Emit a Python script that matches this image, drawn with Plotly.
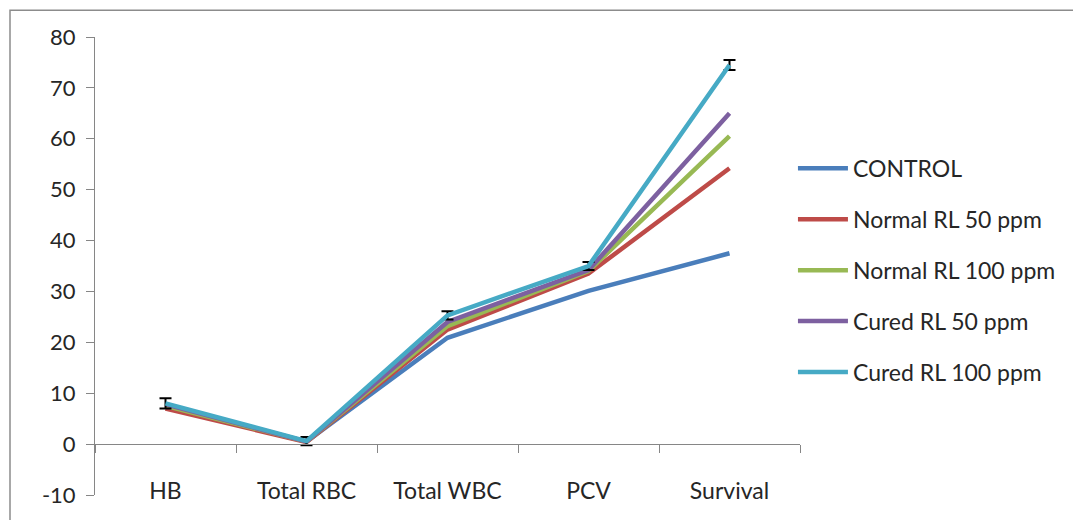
import plotly.graph_objects as go

categories = ["HB", "Total RBC", "Total WBC", "PCV", "Survival"]
control = [7.5, 0.5, 20.9, 30.1, 37.5]
normal_50 = [7.0, 0.4, 22.5, 33.5, 54.2]
normal_100 = [7.5, 0.5, 23.2, 34.0, 60.5]
cured_50 = [7.8, 0.5, 24.0, 34.2, 65.0]
cured_100 = [8.0, 0.6, 25.3, 35.0, 74.5]
cured_100_err = [1.0, 0.8, 0.8, 0.8, 1.0]
y_ticks = list(range(-10, 81, 10))
y_tick_labels = [str(v) for v in y_ticks]

names = ["CONTROL", "Normal RL 50 ppm", "Normal RL 100 ppm", "Cured RL 50 ppm", "Cured RL 100 ppm"]
colors = ["#4A7EBB", "#BE4B48", "#98B954", "#7D60A0", "#46AAC5"]
series = [control, normal_50, normal_100, cured_50, cured_100]

FONT = "Lato"
TXT = "#262626"
GRID = "#868686"

# page body has an 8px margin: figure is sized so the plot lands at the right pixels
fig = go.Figure()
for i, (name, vals, col) in enumerate(zip(names, series, colors)):
    kw = {}
    if i == 4:
        kw["error_y"] = dict(type="data", array=cured_100_err, visible=True,
                             color="black", thickness=2, width=6)
    fig.add_trace(go.Scatter(x=categories, y=vals, mode="lines", name=name,
                             line=dict(color=col, width=4.5), legendgroup=name,
                             **kw))

fig.update_layout(
    width=1073, height=512,
    margin=dict(l=87, r=281, t=29, b=14),
    paper_bgcolor="white", plot_bgcolor="white",
    font=dict(family=FONT, size=23, color=TXT),
    showlegend=True,
    legend=dict(x=0.99, xanchor="left", y=0.76, yanchor="top",
                font=dict(family=FONT, size=23, color=TXT),
                tracegroupgap=18, itemwidth=50, bgcolor="rgba(0,0,0,0)"),
    xaxis=dict(type="category", categoryorder="array", categoryarray=categories,
               range=[-0.5, 4.5], anchor="free", position=(0 - (-10)) / 90,
               showline=True, linecolor=GRID, linewidth=1,
               ticks="outside", ticklen=8, tickcolor=GRID, tickson="boundaries",
               showticklabels=False, showgrid=False, zeroline=False),
    xaxis2=dict(overlaying="x", range=[-0.5, 4.5], anchor="free", position=0.043,
                tickmode="array", tickvals=list(range(len(categories))),
                ticktext=categories, showline=False, ticks="", showgrid=False,
                zeroline=False, tickfont=dict(family=FONT, size=23, color=TXT)),
    yaxis=dict(range=[-10, 80], tickmode="array", tickvals=y_ticks,
               ticktext=y_tick_labels,
               showline=True, linecolor=GRID, linewidth=1,
               ticks="outside", ticklen=8, tickcolor=GRID, showgrid=False,
               zeroline=False, ticklabelstandoff=6,
               tickfont=dict(family=FONT, size=22, color=TXT)),
)

# invisible trace to activate xaxis2
fig.add_trace(go.Scatter(x=[0], y=[None], xaxis="x2", showlegend=False,
                         hoverinfo="skip"))

# outer chart frame (partially cropped in the reference)
fig.add_shape(type="rect", xref="paper", yref="paper",
              x0=(10 - 95) / 705, x1=2, y0=-1, y1=(498 - 10) / 461,
              line=dict(color="#8C8C8C", width=1.5), layer="below")

fig.write_html("out.html")
